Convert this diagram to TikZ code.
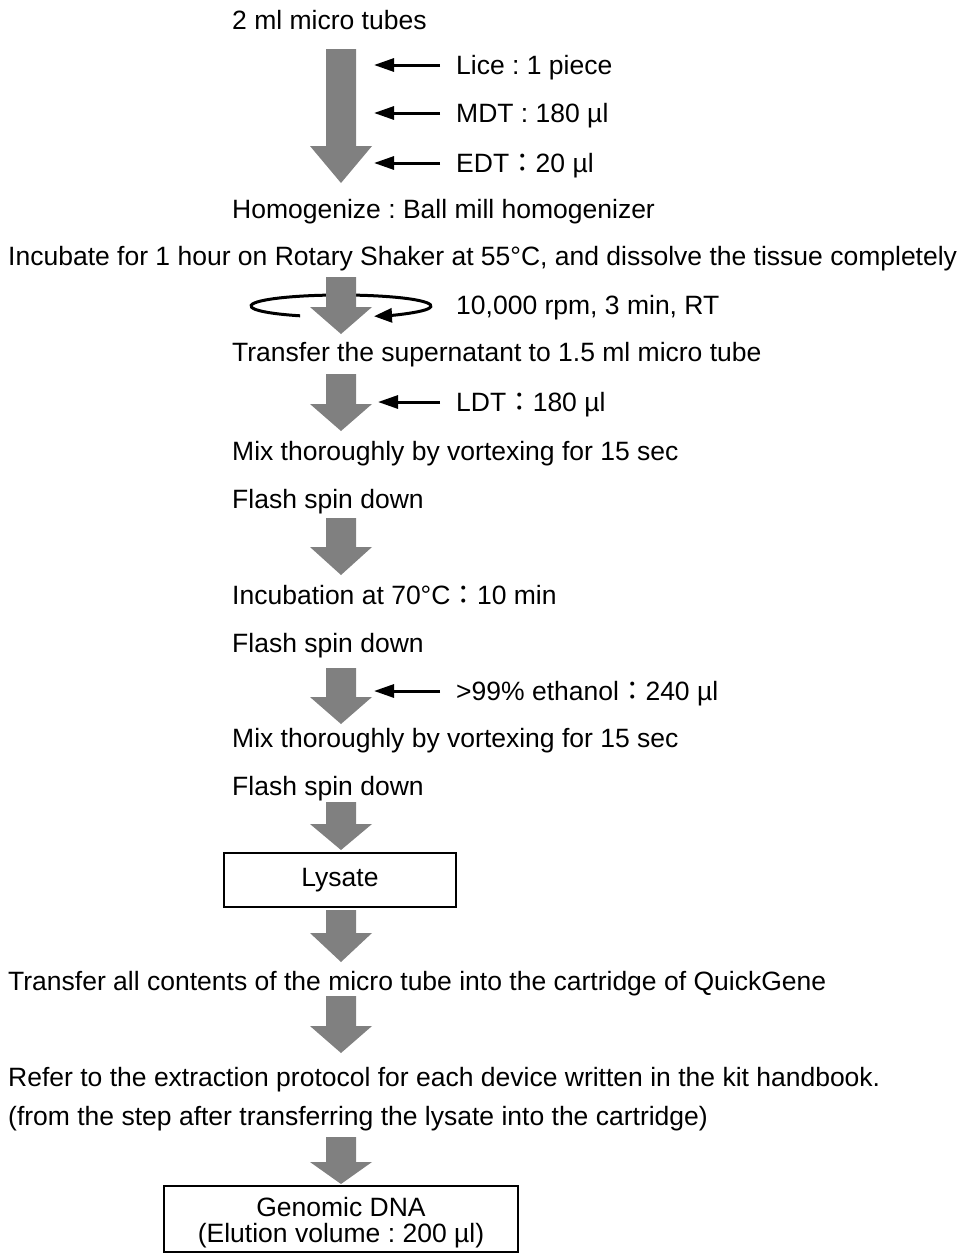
\documentclass[tikz,border=0pt]{standalone}
\usepackage{fontspec}
\setmainfont{Liberation Sans}
\newfontfamily\cjk{Noto Sans CJK JP}
\usetikzlibrary{arrows.meta, calc}
\definecolor{flowgray}{RGB}{128,128,128}
\newcommand{\fwc}{{\cjk ：}}
\frenchspacing
% gray block arrow: centre x, top, head start, tip
\newcommand{\blockarrow}[4]{%
  \fill[flowgray] (#1-15,#2) -- (#1+15,#2) -- (#1+15,#3) -- (#1+31,#3)
    -- (#1,#4) -- (#1-31,#3) -- (#1-15,#3) -- cycle;}

\begin{document}
\begin{tikzpicture}[x=1pt, y=-1pt,
  txt/.style={anchor=west, inner sep=0pt, text height=19pt, text depth=0pt,
    font=\fontsize{26.5}{30}\selectfont},
  addarrow/.style={-{Triangle[length=20pt,width=13pt]}, line width=3pt, shorten <=16pt},
  resultbox/.style={draw, line width=1.4pt, inner sep=0pt},
  boxtext/.style={align=center, inner sep=0pt, font=\fontsize{26.5}{26}\selectfont}]
\useasboundingbox (0,0) rectangle (965,1254);

% centrifuge rotation mark
\draw[line width=3pt, -{Triangle[length=18pt,width=14pt]}] (341,306) ++(117:90 and 11)
  arc[start angle=117, end angle=428.5, x radius=90, y radius=11];

% main flow arrows
\blockarrow{341}{49}{146}{183}
\blockarrow{341}{277}{307}{334}
\blockarrow{341}{374}{404}{431}
\blockarrow{341}{518}{547}{575}
\blockarrow{341}{668}{697}{724}
\blockarrow{341}{802}{824}{850}
\blockarrow{341}{910}{933}{962}
\blockarrow{341}{996}{1026}{1053}
\blockarrow{341}{1137}{1162}{1184}

% steps
\node[txt] (tubes) at (232,20) {2 ml micro tubes};
\node[txt] (lice) at (456,65) {Lice : 1 piece};
\node[txt] (mdt) at (456,113) {MDT : 180 µl};
\node[txt] (edt) at (456,163) {EDT\fwc 20 µl};
\node[txt] (homog) at (232,209) {Homogenize : Ball mill homogenizer};
\node[txt] (incub) at (8,256) {Incubate for 1 hour on Rotary Shaker at 55°C, and dissolve the tissue completely};
\node[txt] (spin) at (456,305) {10,000 rpm, 3 min, RT};
\node[txt] (super) at (232,352) {Transfer the supernatant to 1.5 ml micro tube};
\node[txt] (ldt) at (456,402) {LDT\fwc 180 µl};
\node[txt] (mix1) at (232,451) {Mix thoroughly by vortexing for 15 sec};
\node[txt] (flash1) at (232,499) {Flash spin down};
\node[txt] (incub70) at (232,595) {Incubation at 70°C\fwc 10 min};
\node[txt] (flash2) at (232,643) {Flash spin down};
\node[txt] (ethanol) at (456,691) {>99\% ethanol\fwc 240 µl};
\node[txt] (mix2) at (232,738) {Mix thoroughly by vortexing for 15 sec};
\node[txt] (flash3) at (232,786) {Flash spin down};
\node[resultbox, minimum width=232pt, minimum height=54pt] (lysate) at (340,880) {};
\node[boxtext] (lysatetext) at (lysate.center) {Lysate};
\node[txt] (transfer) at (8,981) {Transfer all contents of the micro tube into the cartridge of QuickGene};
\node[txt] (refer) at (8,1077) {Refer to the extraction protocol for each device written in the kit handbook.};
\node[txt] (refer2) at (8,1116) {(from the step after transferring the lysate into the cartridge)};
\node[resultbox, minimum width=354pt, minimum height=66pt] (genomic) at (341,1219) {};
\node[boxtext] (genomictext) at (341,1223) {Genomic DNA\\(Elution volume : 200 µl)};

% reagents added
\coordinate (licetip) at (374,65);
\coordinate (mdttip) at (374,113);
\coordinate (edttip) at (374,163);
\coordinate (ldttip) at (378,402);
\coordinate (ethanoltip) at (374,691);
\draw[addarrow] (lice.west) -- (licetip);
\draw[addarrow] (mdt.west) -- (mdttip);
\draw[addarrow] (edt.west) -- (edttip);
\draw[addarrow] (ldt.west) -- (ldttip);
\draw[addarrow] (ethanol.west) -- (ethanoltip);
\end{tikzpicture}
\end{document}
